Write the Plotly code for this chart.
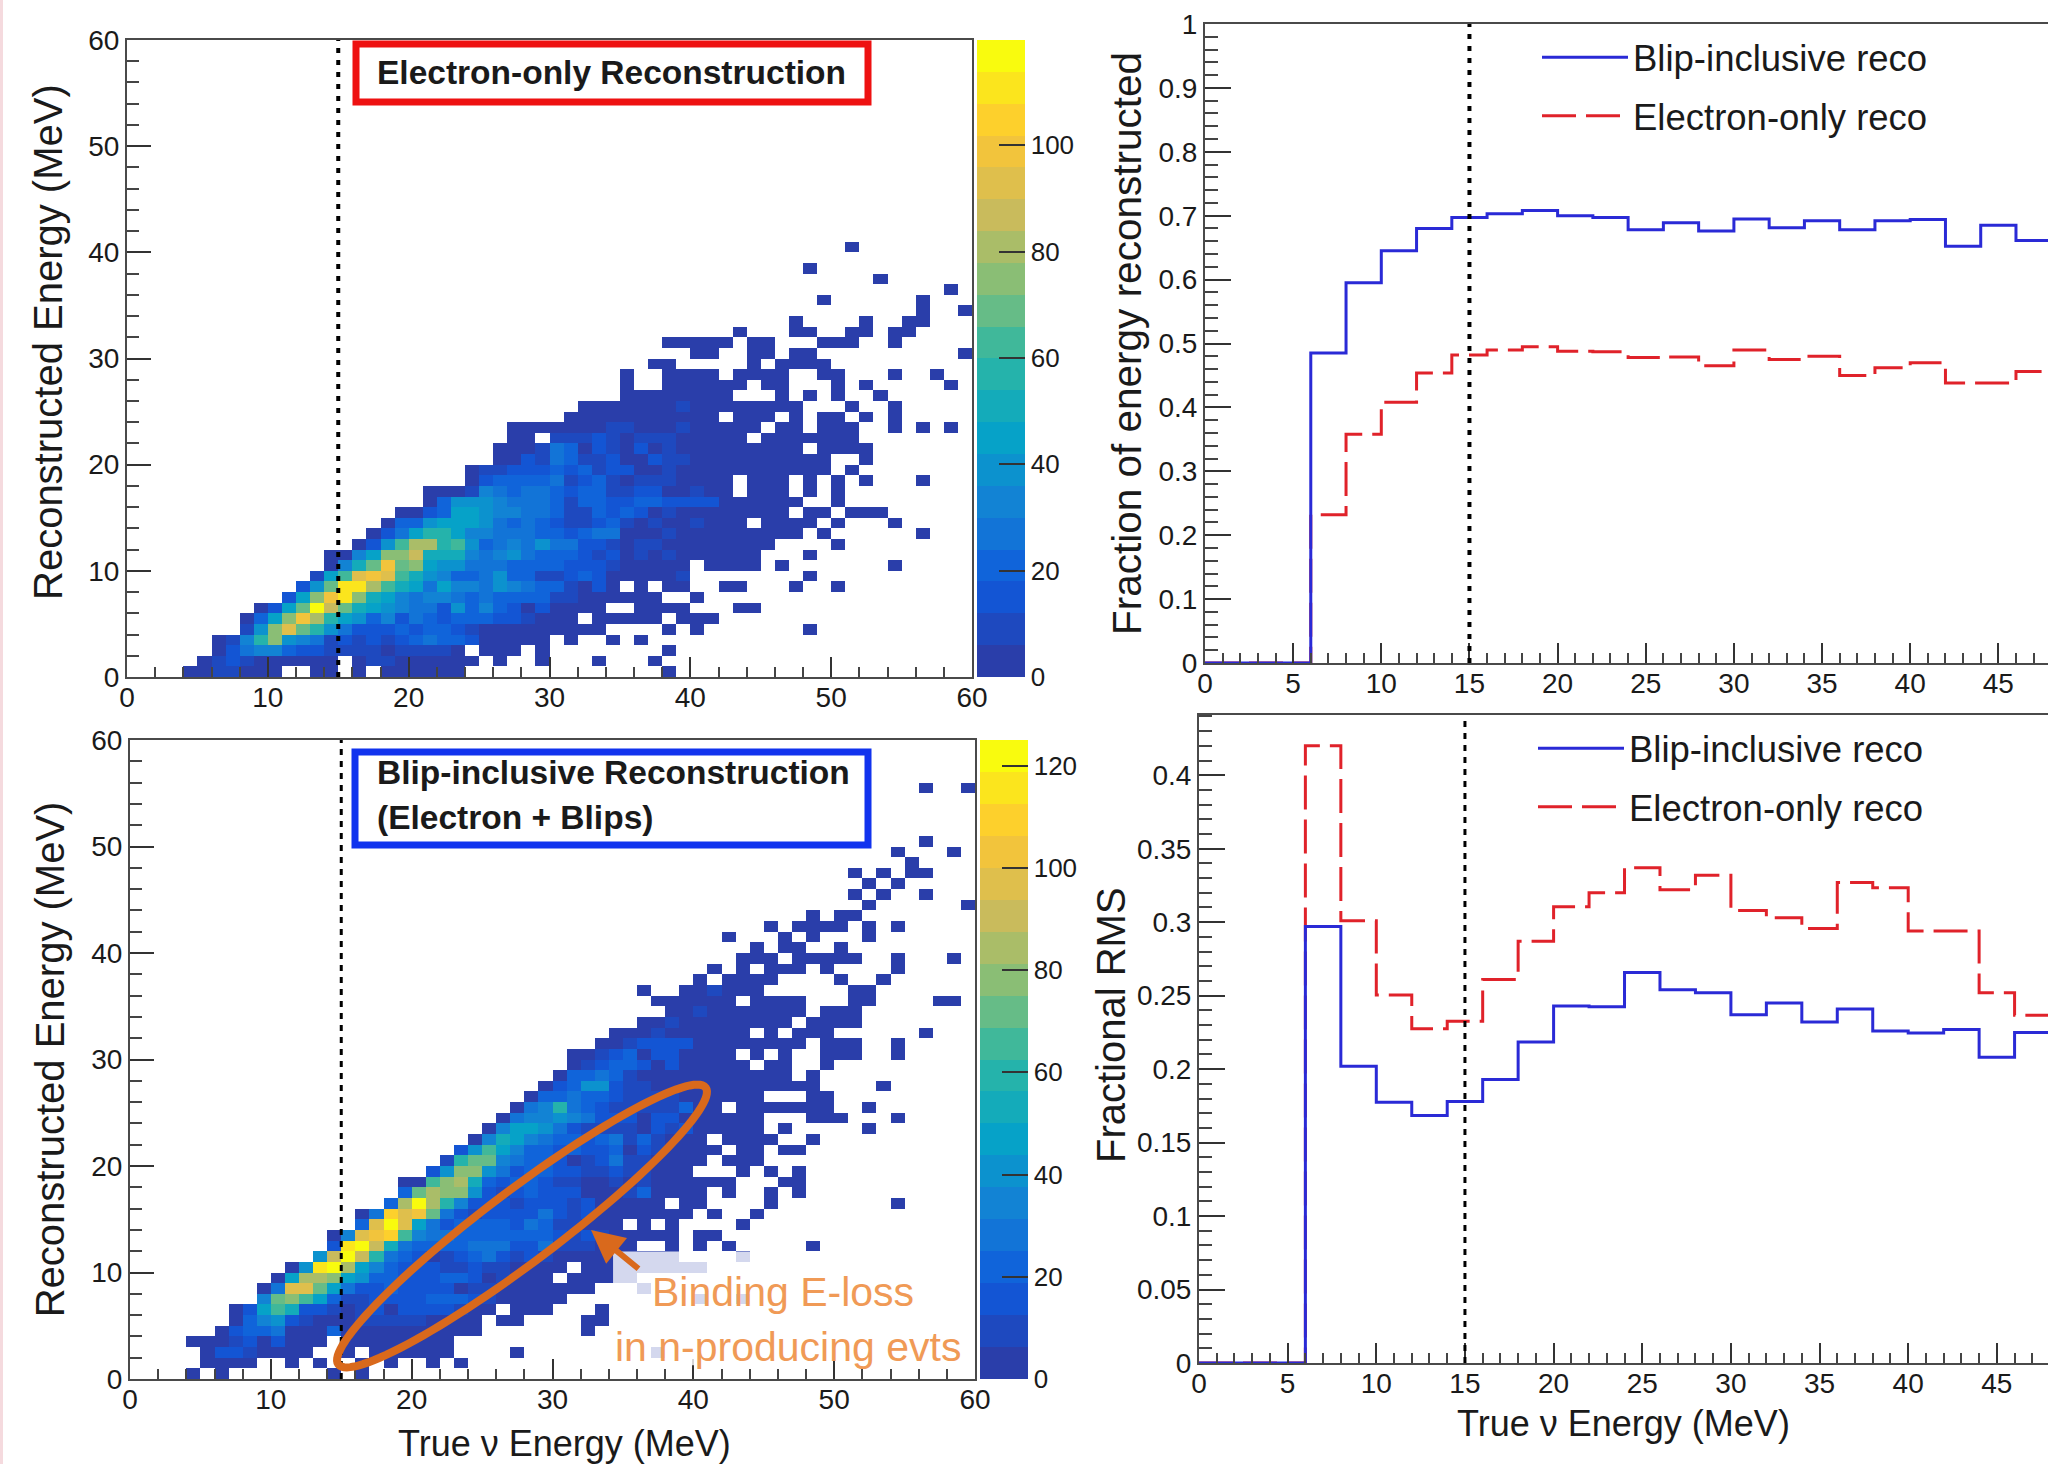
import numpy as np
import plotly.graph_objects as go

W, H = 2048, 1464

# ---- 2D histograms: colour band (0-9,a-j) of each 1 MeV cell, "start:bands" per reco-energy row
ELECTRON_ONLY_ROWS = [
 "4:0011000..00.0.000000 38:0",
 "5:0121000000.011000000.0..0 33:0 37:0",
 "6:024553221111011110.000.0 38:0",
 "6:0159c6541212123433200000.0 34:0 36:0",
 "8:16cfb964222323321000000000 38:0 40:0 48:0",
 "8:037cgd976352432333221000 33:00000 39:000",
 "9:027bjeb876544263532020000 36:0000 43:00",
 "11:27cgic875455434333311000000 40:0",
 "12:26biida8747554654331020.0.00 42:00 47:0 50:0",
 "13:17afgfa86533463311232000001 48:0",
 "14:058bgbc7664443333222100000 41:0000 46:0 54:0",
 "14:0057cce888545643332120101000000 48:0",
 "16:026add9a6345464422101100000000 50:0",
 "17:0247997554443323440001000000000 49:0 56:0",
 "18:03367776434321123101001000.0000.0 54:0",
 "19:0023776554431132320100000000.00.000",
 "21:036665444313322332222000000..0",
 "21:0001543443233112200100.000.0.0",
 "24:0233334123101110000.000.0.0.0 56:0",
 "24:01122232312200100000000000.0",
 "26:00214311200211 40:0000000000..0",
 "26:0001430210201000000000.0000",
 "27:00.11121011100000.0000000",
 "27:000000011000100000.00.000 54:0 56:0 58:0",
 "31:00000000000.000.0.00.0 54:0",
 "32:0000000100000000 51:0 54:0",
 "35:00000000...0.0.0 53:0",
 "35:0 38:000000.00 50:0 52:0 58:0",
 "35:0 38:0000.0000 49:00 54:0 57:0",
 "37:00 44:0.0000",
 "40:00 44:00 47:00 59:0",
 "38:00000 44:00 49:000 54:0",
 "43:0 47:00 51:00 54:00",
 "47:0 52:0 55:00",
 "56:0 59:0",
 "49:0 56:0",
 "58:0",
 "53:0",
 "48:0",
 "",
 "51:0",
]
BLIP_INCLUSIVE_ROWS = [
 "4:0.0 14:0.0",
 "5:0000 11:0 13:0 16:0 18:0 21:0 23:0",
 "5:02210000 15:0 17:000000 27:0 37:0",
 "4:0001202000 15:00000000",
 "6:023340003 15:0000000000 32:0",
 "7:035621000111110000 26:00 32:00",
 "7:027a822101202222100 27:000 33:0",
 "9:5bca731122223332100000 40:0 43:0",
 "9:04ffb742232222011 26:0000000 36:0",
 "10:07ddc763322233201000.00000",
 "11:06ijd753222112110000.000000000",
 "13:6eje9432012342121000000000 43:0",
 "14:2ije843333444224111000 38:0 40:0 42:0 48:0",
 "14:05fgha5443333333212100000 40:00",
 "16:3fjf742333324311000.0.0 43:0",
 "16:04hfgb421222242120000000.0 44:0",
 "18:3djd9522212221200000.00 45:0 54:0",
 "19:3bdcc62123222000130000.0 45:0 47:0",
 "19:00acd8323321100101000000 46:00",
 "21:26cc642332211211000...0.0.0",
 "22:19bb543320124110000.000",
 "23:26a7533232230210000.00.00",
 "24:05875433234131000.0000..0",
 "25:05776421111021200000.0 52:0",
 "26:0455654222022000000...000 54:0",
 "27:045943211111300.0000000 52:0",
 "28:03343321111000000...00",
 "29:02366211000000000000 53:0",
 "30:03343100000000000.0",
 "31:0123320200000.00..0",
 "31:001230220000.0.0..000 54:0",
 "33:001222200000000.000 54:0",
 "34:0001000000.0.000 56:0",
 "36:00100000000.0000",
 "38:0010000000 49:000",
 "37:000000.0000 51:00 57:00",
 "36:0 39:001000 51:00",
 "40:0 42:0000 50:0 53:0",
 "41:0 43:0 45:000 49:0 54:0",
 "43:000 47:00000 54:0 58:0",
 "44:0 46:00 50:0",
 "42:0 46:0 48:0 52:0",
 "45:0 47:0000 52:0 54:0",
 "48:0 50:00",
 "52:0 59:0",
 "51:0 53:0 56:0",
 "52:0 54:0",
 "51:0 53:0 55:00",
 "55:0",
 "54:0 58:0",
 "56:0",
 "", "", "", "",
 "56:0 59:0",
]
HIST_TOP_MAX = 119.8
HIST_BOTTOM_MAX = 125.0
N_BANDS = 20
BIRD_STOPS = [(42,62,170),(15,90,220),(20,128,214),(6,164,200),(46,183,164),
              (135,191,119),(209,187,89),(254,200,50),(249,251,14)]

# ---- 1D profiles, 2 MeV bins starting at 0
BIN_LEFT = [0,2,4,6,8,10,12,14,16,18,20,22,24,26,28,30,32,34,36,38,40,42,44,46,48]
FRAC_BLIP = [0,0,0,.485,.595,.645,.68,.697,.703,.708,.70,.697,.678,.689,.676,.695,.681,.692,.678,.692,.694,.652,.685,.661,.661]
FRAC_ELEC = [0,0,0,.232,.358,.408,.454,.482,.490,.495,.488,.487,.478,.479,.465,.490,.475,.480,.450,.462,.470,.438,.438,.456,.456]
RMS_BLIP = [0,0,0,.297,.202,.1775,.1685,.178,.193,.2185,.243,.2425,.2657,.254,.252,.237,.245,.232,.241,.226,.2245,.227,.208,.225,.225]
RMS_ELEC = [0,0,0,.42,.301,.2505,.2275,.2325,.261,.287,.3105,.32,.337,.322,.332,.308,.303,.2957,.327,.3235,.294,.294,.252,.2367,.2367]
NAME_BLIP = "Blip-inclusive reco"
NAME_ELEC = "Electron-only reco"
VLINE_E = 15

FONT = "Liberation Sans"
INK = "#1a1a1a"
AXIS = "#4a4a4a"
BLUE = "#2a2ad6"
RED = "#e0222a"
ORANGE = "#d9691c"
ORANGE_TEXT = "#f09a56"


def px(x):
    return x / W


def py(y):
    return 1 - y / H


def band_color(i):
    t = i / (N_BANDS - 1) * (len(BIRD_STOPS) - 1)
    k = min(int(t), len(BIRD_STOPS) - 2)
    f = t - k
    a, b = np.array(BIRD_STOPS[k]), np.array(BIRD_STOPS[k + 1])
    c = a + (b - a) * f
    return "rgb(%d,%d,%d)" % tuple(c)


COLORSCALE = []
for i in range(N_BANDS):
    COLORSCALE.append([i / N_BANDS, band_color(i)])
    COLORSCALE.append([(i + 1) / N_BANDS, band_color(i)])

CODES = "0123456789abcdefghij"


def decode(rows, zmax):
    z = [[None] * 60 for _ in range(60)]
    for y, row in enumerate(rows):
        for token in row.split():
            start, bands = token.split(":")
            for k, ch in enumerate(bands):
                if ch != ".":
                    z[y][int(start) + k] = (CODES.index(ch) + 0.5) * zmax / N_BANDS
    return z


centers = [i + 0.5 for i in range(60)]
fig = go.Figure()


def add_hist(rows, zmax, xa, ya, cb_left, top, bottom):
    fig.add_trace(go.Heatmap(
        x=centers, y=centers, z=decode(rows, zmax), zmin=0, zmax=zmax,
        colorscale=COLORSCALE, xaxis=xa, yaxis=ya, hoverongaps=False,
        colorbar=dict(x=px(cb_left), xanchor="left", xpad=0, ypad=0, thickness=48,
                      thicknessmode="pixels", len=(bottom - top) / H, lenmode="fraction",
                      y=py((top + bottom) / 2), yanchor="middle", outlinewidth=0,
                      tick0=0, dtick=20, ticks="inside", ticklen=26, tickwidth=2,
                      tickcolor="#333", tickfont=dict(family=FONT, size=26, color=INK)),
    ))


add_hist(ELECTRON_ONLY_ROWS, HIST_TOP_MAX, "x", "y", 977, 40, 677)
add_hist(BLIP_INCLUSIVE_ROWS, HIST_BOTTOM_MAX, "x3", "y3", 980, 740, 1379)


def add_profile(xs, ys, name, color, dash, rank, xa, ya, legend):
    fig.add_trace(go.Scatter(
        x=xs, y=ys, name=name, mode="lines", legendgroup=name, legendrank=rank,
        line=dict(shape="hv", color=color, width=3, dash=dash),
        xaxis=xa, yaxis=ya, legend=legend))


LONG = "34px,10px"
add_profile(BIN_LEFT, FRAC_ELEC, NAME_ELEC, RED, LONG, 2, "x2", "y2", "legend")
add_profile(BIN_LEFT, FRAC_BLIP, NAME_BLIP, BLUE, "solid", 1, "x2", "y2", "legend")
add_profile(BIN_LEFT, RMS_ELEC, NAME_ELEC, RED, LONG, 2, "x4", "y4", "legend2")
add_profile(BIN_LEFT, RMS_BLIP, NAME_BLIP, BLUE, "solid", 1, "x4", "y4", "legend2")

tickfont = dict(family=FONT, size=28, color=INK)


def axis(domain, rng, dtick, minor, ticklen, mirror=True, title=None, title_size=36, standoff=8,
         anchor=None, label_shift=0):
    d = dict(domain=domain, range=rng, dtick=dtick, tick0=0, ticks="inside", ticklen=ticklen,
             tickwidth=2, tickcolor="#333", showgrid=False, zeroline=False,
             showline=True, linecolor=AXIS, linewidth=2, mirror=mirror, tickfont=tickfont,
             ticklabelstandoff=label_shift,
             minor=dict(ticks="inside", ticklen=ticklen // 2, dtick=minor, tick0=0,
                        tickwidth=2, tickcolor="#444", showgrid=False),
             anchor=anchor)
    if title:
        d["title"] = dict(text=title, font=dict(family=FONT, size=title_size, color=INK), standoff=standoff)
    return d


Y_RECO = "Reconstructed Energy (MeV)"
X_TRUE = "True ν Energy (MeV)"

layout = dict(
    width=W, height=H, autosize=False, margin=dict(l=0, r=0, t=0, b=0, pad=0, autoexpand=False),
    paper_bgcolor="white", plot_bgcolor="white", font=dict(family=FONT, color=INK),
    xaxis=axis([px(127), px(972)], [0, 60], 10, 2, 20, anchor="y", label_shift=-6),
    yaxis=axis([py(677), py(40)], [0, 60], 10, 2, 24, anchor="x"),
    xaxis3=axis([px(130), px(975)], [0, 60], 10, 2, 20, anchor="y3", label_shift=-6),
    yaxis3=axis([py(1379), py(740)], [0, 60], 10, 2, 24, title=Y_RECO, title_size=40, standoff=14, anchor="x3"),
    xaxis2=axis([px(1205), 1], [0, (W - 1205) / 17.63], 5, 1, 20, anchor="y2", label_shift=-6),
    yaxis2=axis([py(663), py(24)], [0, 1], 0.1, 0.02, 26, mirror=False,
                title="Fraction of energy reconstructed", title_size=40.5, standoff=4, anchor="x2"),
    xaxis4=axis([px(1199), 1], [0, (W - 1199) / 17.73], 5, 1, 20, title=X_TRUE, standoff=13,
                anchor="y4", label_shift=-6),
    yaxis4=axis([py(1363), py(715)], [0, 0.441], 0.05, 0.01, 26, mirror=False, anchor="x4"),
    legend=dict(x=px(1537), y=py(27), xanchor="left", yanchor="top", bgcolor="rgba(0,0,0,0)",
                itemwidth=86, tracegroupgap=8, traceorder="grouped",
                font=dict(family=FONT, size=36.5, color=INK)),
    legend2=dict(x=px(1533), y=py(718), xanchor="left", yanchor="top", bgcolor="rgba(0,0,0,0)",
                 itemwidth=86, tracegroupgap=8, traceorder="grouped",
                 font=dict(family=FONT, size=36.5, color=INK)),
)

shapes = [dict(type="rect", xref="paper", yref="paper", x0=0, x1=px(3), y0=0, y1=1,
               fillcolor="#f5dade", line=dict(width=0), layer="below")]

# label background that washes out the histogram behind "Binding E-loss"
shapes.append(dict(type="rect", xref="x3", yref="y3", x0=34.3, x1=46, y0=1.3, y1=11.97,
                   fillcolor="white", opacity=0.8, line=dict(width=0)))

# vertical 15 MeV reference lines
for xa, ya, top, w, dash in [("x", "y", 60, 4, "5px,7px"), ("x3", "y3", 60, 3, "6px,6px"),
                             ("x2", "y2", 1, 4, "5px,7px"), ("x4", "y4", 0.441, 3, "6px,6px")]:
    shapes.append(dict(type="line", xref=xa, yref=ya, x0=VLINE_E, x1=VLINE_E, y0=0, y1=top,
                       line=dict(color="black", width=w, dash=dash)))

# title boxes
shapes.append(dict(type="rect", xref="paper", yref="paper", x0=px(356), x1=px(868), y0=py(44), y1=py(102),
                   fillcolor="white", line=dict(color="#ee1111", width=7)))
shapes.append(dict(type="rect", xref="paper", yref="paper", x0=px(355), x1=px(868), y0=py(752), y1=py(845),
                   fillcolor="white", line=dict(color="#1133ee", width=7)))

# tilted ellipse around the binding-energy-loss population
t = np.linspace(0, 2 * np.pi, 121)
cx, cy, a, b, ang = 522, 1226, 230, 36, np.radians(-37)
ex = cx + a * np.cos(t) * np.cos(ang) - b * np.sin(t) * np.sin(ang)
ey = cy + a * np.cos(t) * np.sin(ang) + b * np.sin(t) * np.cos(ang)
path = "M" + " L".join(f"{px(u):.5f},{py(v):.5f}" for u, v in zip(ex, ey)) + " Z"
shapes.append(dict(type="path", xref="paper", yref="paper", path=path,
                   line=dict(color=ORANGE, width=8), fillcolor="rgba(0,0,0,0)"))
layout["shapes"] = shapes


def label(x, y, text, size, color=INK, bold=False, anchor="left", angle=0):
    return dict(xref="paper", yref="paper", x=px(x), y=py(y), text=f"<b>{text}</b>" if bold else text,
                showarrow=False, xanchor=anchor, yanchor="middle", textangle=angle,
                font=dict(family=FONT, size=size, color=color))


layout["annotations"] = [
    label(375, 72, "Electron-only Reconstruction", 33.5, bold=True),
    label(375, 772, "Blip-inclusive Reconstruction", 33.5, bold=True),
    label(375, 817, "(Electron + Blips)", 33.5, bold=True),
    label(650, 1292, "Binding E-loss", 41, ORANGE_TEXT),
    label(613, 1347, "in n-producing evts", 41, ORANGE_TEXT),
    # axis titles that sit off-centre from their axes in the reference
    label(48, 342, Y_RECO, 40, anchor="center", angle=-90),
    label(1111, 1025, "Fractional RMS", 40, anchor="center", angle=-90),
    label(564, 1443, X_TRUE, 36, anchor="center"),
    dict(xref="paper", yref="paper", x=px(591), y=py(1230), ax=49, ay=40,
         axref="pixel", ayref="pixel", text="", showarrow=True, arrowhead=2, arrowsize=1.1,
         arrowwidth=6, arrowcolor=ORANGE),
]

fig.update_layout(**layout)
fig.write_html("out.html", config=dict(displayModeBar=False),
               post_script="document.body.style.margin='0';document.body.style.overflow='hidden';")
